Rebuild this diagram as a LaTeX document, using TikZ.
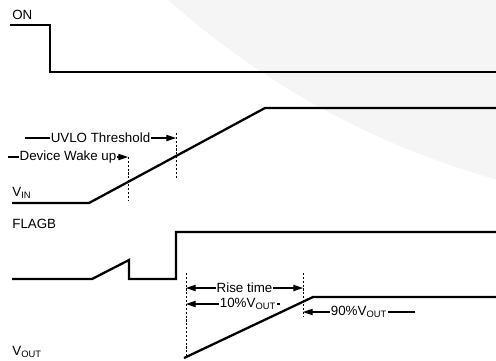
\documentclass[tikz,border=0pt]{standalone}
\usepackage{fontspec}
\setmainfont{Liberation Sans}
\usetikzlibrary{arrows.meta, positioning, calc}

\begin{document}
\begin{tikzpicture}[
    x=0.02cm, y=-0.02cm,
    >={Triangle[length=5.5pt, width=3.6pt]}, % filled heads like the datasheet
    font=\fontsize{7.6}{9}\selectfont,
    wave/.style={line width=1.3pt, line join=miter},
    marker/.style={line width=0.5pt, dash pattern=on 1.2pt off 1pt},
    arr/.style={line width=0.6pt, ->},
    lbl/.style={fill=white, inner sep=0.4pt},
    sig/.style={anchor=west, inner sep=0pt}
]
    \useasboundingbox (0,0) rectangle (496,360);

    % Faint background shape
    \begin{scope}
        \clip (0,0) rectangle (496,360);
        \fill[black!4] (720,-620) circle (830);
    \end{scope}

    % =======================================================
    % ON
    % =======================================================
    \node[sig] (onLbl) at (12,15) {ON};
    \draw[wave] (10,25) -- (50,25) -- (50,72) -- (496,72);

    % =======================================================
    % VIN
    % =======================================================
    \node[sig] (vinLbl) at (12,193) {V\textsubscript{IN}};
    \draw[wave] (12,203) -- (89,203) -- (265,108) -- (496,108);

    % Wake up and UVLO markers
    \coordinate (wakeTop) at (128,157);
    \coordinate (wakeBot) at (128,200);
    \coordinate (uvloTop) at (176,133);
    \coordinate (uvloBot) at (176,178);
    \draw[marker] (wakeTop) -- (wakeBot);
    \draw[marker] (uvloTop) -- (uvloBot);

    \coordinate (wakeTail) at (8,157);
    \coordinate (uvloTail) at (25,138);
    \draw[arr] (wakeTail) -- node[lbl] (wakeLbl) {Device Wake up} (wakeTop);
    \draw[arr] (uvloTail) -- node[lbl] (uvloLbl) {UVLO Threshold} (uvloTop |- uvloTail);

    % =======================================================
    % FLAGB
    % =======================================================
    \node[sig] (flagLbl) at (12,224) {FLAGB};
    \draw[wave] (12,279) -- (92,279) -- (129,260) -- (129,279) -- (176,279) -- (176,232) -- (496,232);

    % =======================================================
    % VOUT
    % =======================================================
    \node[sig] (voutLbl) at (12,352) {V\textsubscript{OUT}};
    \draw[wave] (184,358) -- (313,297) -- (496,297);

    % Rise time markers
    \coordinate (riseLTop) at (186,273);
    \coordinate (riseLBot) at (186,358);
    \coordinate (riseRTop) at (303,273);
    \coordinate (riseRBot) at (303,317);
    \draw[marker] (riseLTop) -- (riseLBot);
    \draw[marker] (riseRTop) -- (riseRBot);

    \coordinate (riseL) at (186,288);
    \coordinate (riseR) at (303,288);
    \draw[arr, <->] (riseL) -- node[lbl] (riseLbl) {Rise time} (riseR);

    \node[lbl] (tenLbl) at (248,304) {10\%V\textsubscript{OUT}};
    \coordinate (tenTip) at (186,304);
    \draw[arr] (tenLbl.west) -- (tenTip);
    \draw[line width=0.6pt] (tenLbl.east) -- ++(3,0);

    \coordinate (ninetyTail) at (415,312);
    \coordinate (ninetyTip) at (303,312);
    \draw[arr] (ninetyTail) -- node[lbl] (ninetyLbl) {90\%V\textsubscript{OUT}} (ninetyTip);

\end{tikzpicture}
\end{document}
